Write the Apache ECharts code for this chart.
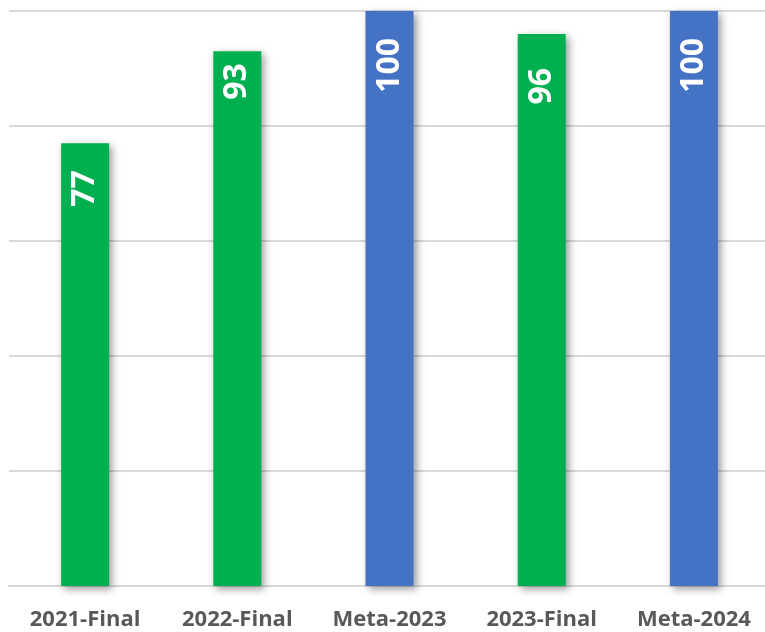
<!DOCTYPE html>
<html>
<head>
<meta charset="utf-8">
<script src="https://cdn.jsdelivr.net/npm/echarts@6/dist/echarts.min.js"></script>
<style>
html,body{margin:0;padding:0;background:#fff;}
#chart{width:765px;height:632px;}
</style>
</head>
<body>
<div id="chart"></div>
<script>
const categories = ['2021-Final', '2022-Final', 'Meta-2023', '2023-Final', 'Meta-2024'];
const values = [77, 93, 100, 96, 100];
const kinds = ['final', 'final', 'meta', 'final', 'meta'];
const yTicks = [0, 20, 40, 60, 80, 100];

// styling (not data)
const colorMap = { final: '#00b050', meta: '#4472c4' };
const labelGaps = [27, 12, 27, 34, 27];

const chart = echarts.init(document.getElementById('chart'));
chart.setOption({
  animation: false,
  grid: { left: 9, top: 11, width: 761, bottom: 46, containLabel: false, outerBoundsMode: 'none' },
  xAxis: {
    type: 'category',
    data: categories,
    axisTick: { show: false },
    axisLine: { lineStyle: { color: '#d9d9d9', width: 2 } },
    axisLabel: {
      interval: 0,
      hideOverlap: false,
      color: '#595959',
      fontFamily: 'Open Sans',
      fontWeight: 'bold',
      fontSize: 22,
      margin: 23
    }
  },
  yAxis: {
    type: 'value',
    min: yTicks[0],
    max: yTicks[yTicks.length - 1],
    interval: 20,
    axisLabel: { show: false },
    axisLine: { show: false },
    axisTick: { show: false },
    splitLine: { lineStyle: { color: '#d9d9d9', width: 2 } }
  },
  series: [{
    type: 'bar',
    barWidth: 48,
    data: values.map((v, i) => ({
      value: v,
      itemStyle: { color: colorMap[kinds[i]] },
      label: { distance: labelGaps[i] }
    })),
    itemStyle: {
      shadowBlur: 8,
      shadowOffsetX: 3,
      shadowOffsetY: 3,
      shadowColor: 'rgba(0,0,0,0.4)'
    },
    label: {
      show: true,
      position: 'insideTop',
      rotate: 90,
      align: 'right',
      verticalAlign: 'middle',
      distance: 27,
      color: '#ffffff',
      fontFamily: 'Open Sans',
      fontWeight: 'bold',
      fontSize: 32
    }
  }]
});
</script>
</body>
</html>
